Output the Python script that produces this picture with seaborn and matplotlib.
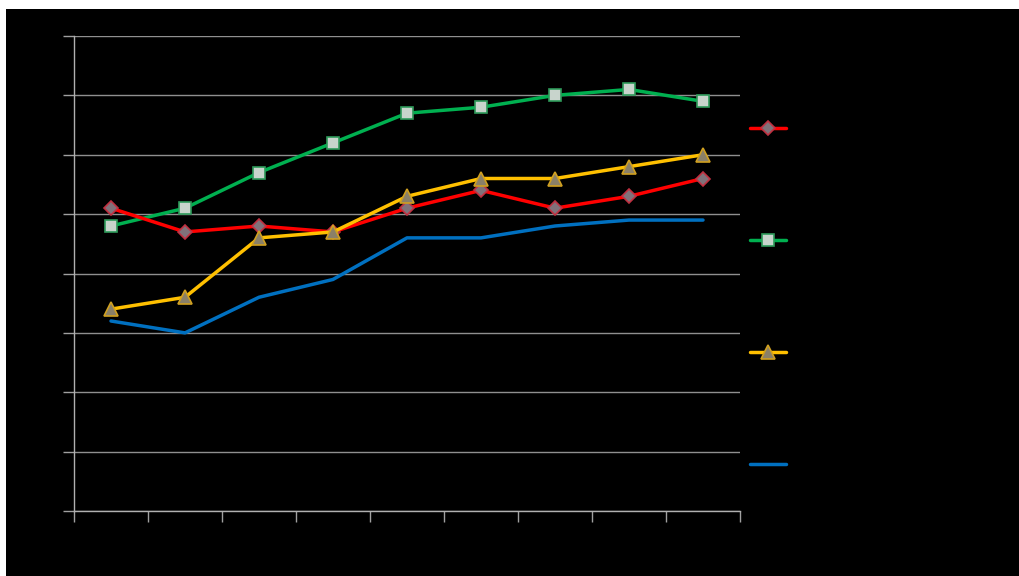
import numpy as np
import pandas as pd
import matplotlib
matplotlib.use("Agg")
import matplotlib.pyplot as plt
from matplotlib.patches import Rectangle
import seaborn as sns

# Nine consecutive periods along the horizontal axis
periods = list(range(9))

# Series values (scale 0-80)
series_names = ["Series 1", "Series 2", "Series 3", "Series 4"]
red_values = [51, 47, 48, 47, 51, 54, 51, 53, 56]
green_values = [48, 51, 57, 62, 67, 68, 70, 71, 69]
yellow_values = [34, 36, 46, 47, 53, 56, 56, 58, 60]
blue_values = [32, 30, 36, 39, 46, 46, 48, 49, 49]

y_ticks = list(range(0, 81, 10))

sns.set_theme(style="dark")
plt.rcParams["font.family"] = ["DejaVu Sans"]

W, H, DPI = 1019, 576, 100
fig = plt.figure(figsize=(W / DPI, H / DPI), dpi=DPI, facecolor="white")
# black slide panel behind the chart
fig.patches.append(Rectangle((6 / W, 0), 1, (H - 9) / H, transform=fig.transFigure,
                             facecolor="black", edgecolor="none", zorder=-5))

ax = fig.add_axes([74 / W, (H - 511) / H, (740 - 74) / W, (511 - 36) / H])
ax.set_facecolor("black")

df = pd.DataFrame({
    "period": periods * 4,
    "value": red_values + green_values + yellow_values + blue_values,
    "series": np.repeat(series_names, len(periods)),
})

styles = {
    "Series 1": dict(color="#ff0000", marker="D", markersize=7.5,
                     markerfacecolor="#80727a", markeredgecolor="#c03040", zorder=4),
    "Series 2": dict(color="#00b050", marker="s", markersize=9,
                     markerfacecolor="#c8d4cc", markeredgecolor="#2e9a5a", zorder=3),
    "Series 3": dict(color="#ffc000", marker="^", markersize=10,
                     markerfacecolor="#8a8068", markeredgecolor="#d0a020", zorder=5),
    "Series 4": dict(color="#0070c0", marker=None, zorder=2),
}

for name in series_names:
    sub = df[df["series"] == name]
    st = dict(styles[name])
    sns.lineplot(data=sub, x="period", y="value", ax=ax, linewidth=2.5,
                 markeredgewidth=1.2, label=name, **st)

ax.set_xlim(-0.5, 8.5)
ax.set_ylim(0, 80)
ax.set_yticks(y_ticks)
ax.set_xticks(np.arange(-0.5, 9.0, 1.0))
ax.grid(axis="y", color="#8f8f8f", linewidth=1.0)
ax.grid(axis="x", visible=False)
ax.set_axisbelow(True)
ax.tick_params(axis="both", which="both", colors="#a0a0a0", length=8, width=1,
               labelleft=False, labelbottom=False, left=True, bottom=True,
               direction="out")
ax.set_xlabel("")
ax.set_ylabel("")
for side in ["top", "right"]:
    ax.spines[side].set_visible(False)
for side in ["left", "bottom"]:
    ax.spines[side].set_visible(True)
    ax.spines[side].set_color("#b0b0b0")
    ax.spines[side].set_linewidth(1.0)

handles, labels = ax.get_legend_handles_labels()
leg = ax.legend(handles, labels, loc="upper left", bbox_to_anchor=(1.0, 0.84),
                frameon=False, handlelength=2.6, labelspacing=7.05, fontsize=10,
                labelcolor="black", borderaxespad=0.3)

fig.savefig("out.png", dpi=DPI, facecolor=fig.get_facecolor())
